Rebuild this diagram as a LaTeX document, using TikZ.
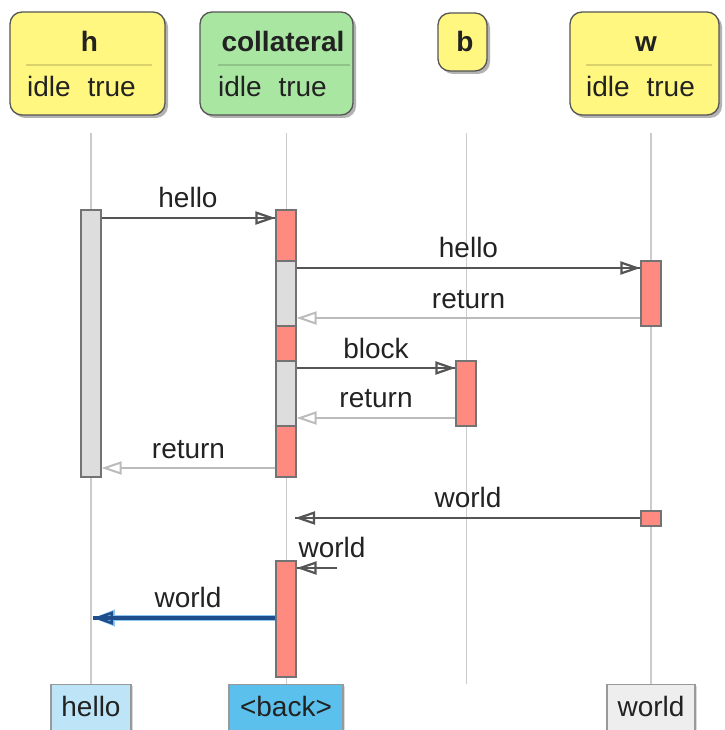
\documentclass[tikz,border=0pt]{standalone}
\usepackage{fontspec}
\setmainfont{Liberation Sans}
\usetikzlibrary{arrows.meta,shadows}
\definecolor{hdryellow}{HTML}{FFF780}
\definecolor{hdrgreen}{HTML}{A9E6A1}
\definecolor{barred}{HTML}{FF8A80}
\definecolor{bargray}{HTML}{DDDDDD}
\definecolor{lifegray}{HTML}{CCCCCC}
\definecolor{calldark}{HTML}{555555}
\definecolor{retgray}{HTML}{BBBBBB}
\definecolor{bluedark}{HTML}{1F4E8C}
\definecolor{blueglow}{HTML}{8CC8F2}
\definecolor{boxlblue}{HTML}{BDE5F7}
\definecolor{boxblue}{HTML}{5BC0EB}
\definecolor{boxgray}{HTML}{EEEEEE}
\definecolor{txt}{HTML}{222222}
\tikzset{
  hdr/.style={draw=calldark, line width=1.3pt, rounded corners=12pt, inner sep=0pt,
    drop shadow={shadow xshift=3pt, shadow yshift=-3pt, fill=black, opacity=0.3}},
  divider/.style={line width=2pt, draw=black, draw opacity=0.15},
  lifeline/.style={draw=lifegray, line width=1.5pt},
  actbar/.style={draw=black!55, line width=1.2pt, minimum width=20pt, inner sep=0pt},
  callline/.style={draw=calldark, line width=2.8pt},
  calltip/.style={draw=calldark, line width=2.8pt, -{Triangle[open, length=20pt, width=13pt, line width=2.2pt]}},
  retarrow/.style={draw=retgray, line width=2.6pt, -{Triangle[open, length=20pt, width=13pt, line width=2pt]}},
  lbl/.style={anchor=base, text=txt, inner sep=0pt},
  endbox/.style={draw=black!40, line width=1.3pt, inner sep=0pt, anchor=north,
    drop shadow={shadow xshift=1.5pt, shadow yshift=-1.5pt, fill=black, opacity=0.15}},
}
\begin{document}
\begin{tikzpicture}[x=1pt, y=-1pt, font=\fontsize{28}{32}\selectfont]
\useasboundingbox (0,0) rectangle (724,730);
\clip (0,0) rectangle (724,730);

% lifelines
\draw[lifeline] (91,133) -- (91,684);
\draw[lifeline] (286.5,133) -- (286.5,684);
\draw[lifeline] (466.5,133) -- (466.5,684);
\draw[lifeline] (651,133) -- (651,684);

% headers
\node[hdr, fill=hdryellow, minimum width=155pt, minimum height=103pt] (hH) at (87.5,63.5) {};
\node[hdr, fill=hdrgreen, minimum width=153pt, minimum height=103pt] (hC) at (276.5,63.5) {};
\node[hdr, fill=hdryellow, minimum width=49pt, minimum height=58pt] (hB) at (462.5,42) {};
\node[hdr, fill=hdryellow, minimum width=149pt, minimum height=103pt] (hW) at (644.5,63.5) {};

\draw[divider] (26,65) -- (152,65);
\draw[divider] (218,65) -- (350,65);
\draw[divider] (586,65) -- (712,65);

\node[lbl, font=\fontsize{28}{32}\selectfont\bfseries] (tH) at (89.5,52) {h};
\node[lbl, font=\fontsize{28}{32}\selectfont\bfseries] (tC) at (283,52) {collateral};
\node[lbl, font=\fontsize{28}{32}\selectfont\bfseries] (tB) at (465,52) {b};
\node[lbl, font=\fontsize{28}{32}\selectfont\bfseries] (tW) at (646,52) {w};

\node[lbl, anchor=base west] (iH) at (27,97) {idle\hspace{0.6em}true};
\node[lbl, anchor=base west] (iC) at (218,97) {idle\hspace{0.6em}true};
\node[lbl, anchor=base west] (iW) at (586,97) {idle\hspace{0.6em}true};

% activation bars
\node[actbar, fill=bargray, minimum height=267pt] (aH) at (91,343.5) {};
\node[actbar, fill=barred, minimum height=267pt] (aC) at (286,343.5) {};
\node[actbar, fill=bargray, minimum height=65pt] (aC1) at (286,293.5) {};
\node[actbar, fill=bargray, minimum height=65pt] (aC2) at (286,393.5) {};
\node[actbar, fill=barred, minimum height=65pt] (aW) at (651,293.5) {};
\node[actbar, fill=barred, minimum height=65pt] (aB) at (466,393.5) {};
\node[actbar, fill=barred, minimum height=15pt] (aW2) at (651,518.5) {};
\node[actbar, fill=barred, minimum height=116pt] (aC3) at (286,619) {};

% message end points
\coordinate (m1s) at (aH.east |- 0,218);  \coordinate (m1e) at (aC.west |- 0,218);
\coordinate (m2s) at (aC1.east |- 0,268); \coordinate (m2e) at (aW.west |- 0,268);
\coordinate (m3s) at (aW.west |- 0,318);  \coordinate (m3e) at (aC1.east |- 0,318);
\coordinate (m4s) at (aC2.east |- 0,368); \coordinate (m4e) at (aB.west |- 0,368);
\coordinate (m5s) at (aB.west |- 0,418);  \coordinate (m5e) at (aC2.east |- 0,418);
\coordinate (m6s) at (aC.west |- 0,468);  \coordinate (m6e) at (aH.east |- 0,468);
\coordinate (m7s) at (aW2.west |- 0,518); \coordinate (m7e) at (295,518);
\coordinate (m8s) at (337,568);           \coordinate (m8e) at (aC3.east |- 0,568);
\coordinate (m9s) at (aC3.west |- 0,618); \coordinate (m9e) at (93,618);

% calls
\draw[calltip] (m1s) -- (m1e); \draw[callline] (m1s) -- (m1e);
\draw[calltip] (m2s) -- (m2e); \draw[callline] (m2s) -- (m2e);
\draw[calltip] (m4s) -- (m4e); \draw[callline] (m4s) -- (m4e);
\draw[calltip] (m7s) -- (m7e); \draw[callline] (m7s) -- (m7e);
\draw[calltip] (m8s) -- (m8e); \draw[callline] (m8s) -- (m8e);
% returns
\draw[retarrow] (m3s) -- (m3e);
\draw[retarrow] (m5s) -- (m5e);
\draw[retarrow] (m6s) -- (m6e);
% blue message
\draw[draw=blueglow, line width=6.5pt, -{Triangle[open, length=22pt, width=16pt, line width=4.5pt]}] (m9s) -- (m9e);
\draw[draw=bluedark, line width=3.2pt, -{Triangle[open, length=20pt, width=13pt, line width=2.6pt]}] (m9s) -- (m9e);
\draw[draw=bluedark, line width=3.2pt] (m9s) -- (m9e);

% labels
\node[lbl] (l1) at (188,207) {hello};
\node[lbl] (l2) at (468.5,257) {hello};
\node[lbl] (l3) at (468.5,308) {return};
\node[lbl] (l4) at (376,358) {block};
\node[lbl] (l5) at (376,407) {return};
\node[lbl] (l6) at (188.5,458) {return};
\node[lbl] (l7) at (468,507) {world};
\node[lbl] (l8) at (332,557) {world};
\node[lbl] (l9) at (188,607) {world};

% end boxes
\node[endbox, fill=boxlblue, minimum width=80pt, minimum height=50pt] (eH) at (91,684) {};
\node[endbox, fill=boxblue, minimum width=114pt, minimum height=50pt] (eC) at (286,684) {};
\node[endbox, fill=boxgray, minimum width=88pt, minimum height=50pt] (eW) at (651,684) {};
\node[lbl] (teH) at (91,716) {hello};
\node[lbl] (teC) at (286,716) {<back>};
\node[lbl] (teW) at (651,716) {world};
\end{tikzpicture}
\end{document}
